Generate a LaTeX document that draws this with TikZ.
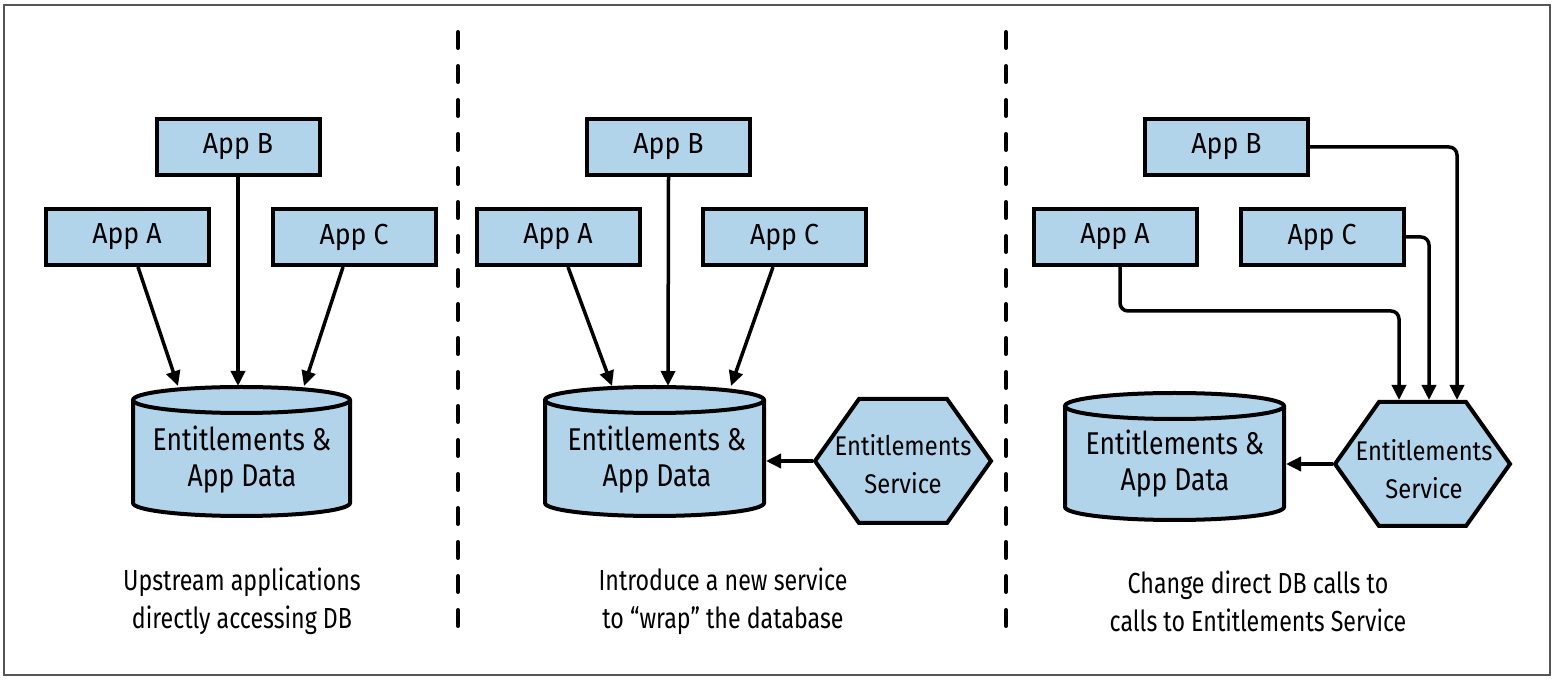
\documentclass[tikz,border=0pt]{standalone}
\usepackage{fontspec}
\setmainfont{Fira Sans}[FakeStretch=0.88]
\newfontfamily\appfont{Fira Sans}[FakeStretch=0.92]
\newfontfamily\dbfont{Fira Sans}[FakeStretch=0.84]
\newfontfamily\hexfont{Fira Sans}[FakeStretch=0.88]
\newfontfamily\capfont{Fira Sans}[FakeStretch=0.80]
\usetikzlibrary{arrows.meta,calc}
\definecolor{appblue}{HTML}{B2D4EA}
\definecolor{framegray}{HTML}{555555}
\newcommand\DBcyl[5]{% cx, rx, Ytop, Ybot, r
  \fill[appblue] ({#1-#2},#3) -- ({#1-#2},#4) arc[start angle=180, end angle=360, x radius=#2pt, y radius=#5pt] -- ({#1+#2},#3) arc[start angle=0, end angle=180, x radius=#2pt, y radius=#5pt] -- cycle;
  \draw[line width=4pt] ({#1-#2},#3) -- ({#1-#2},#4) arc[start angle=180, end angle=360, x radius=#2pt, y radius=#5pt] -- ({#1+#2},#3);
  \draw[line width=4pt] (#1,#3) ellipse[x radius=#2pt, y radius=#5pt];
}
\begin{document}
\begin{tikzpicture}[x=1pt,y=1pt,
  app/.style={draw, line width=4pt, fill=appblue, minimum width=163pt, minimum height=56pt, inner sep=0pt, font=\appfont\fontsize{29}{34}\selectfont},
  anchorbox/.style={inner sep=0pt, outer sep=0pt},
  dbtxt/.style={align=center, inner sep=0pt, font=\dbfont\fontsize{31.5}{36}\selectfont},
  hextxt/.style={align=center, inner sep=0pt, font=\hexfont\fontsize{27}{38}\selectfont},
  captxt/.style={align=center, inner sep=0pt, font=\capfont\fontsize{29}{38}\selectfont},
  conn/.style={line width=3.5pt, -{Triangle[length=15pt,width=14pt]}},
  hexshape/.style={draw, line width=4pt, fill=appblue, line join=miter},
  divider/.style={line width=4pt, dash pattern=on 16pt off 18pt, line cap=round}
]
\useasboundingbox (0,0) rectangle (1556,680);
\draw[framegray, line width=1.5pt] (4,5) rectangle (1550,675);

% dividers
\coordinate (d1t) at (458,648); \coordinate (d1b) at (458,43);
\coordinate (d2t) at (1006,648); \coordinate (d2b) at (1006,43);
\draw[divider] (d1t) -- (d1b);
\draw[divider] (d2t) -- (d2b);

% ---------- Panel 1 ----------
\node[app] (b1) at (238,533) {App B};
\node[app] (a1) at (127,443) {App A};
\node[app] (c1) at (354,443) {App C};
\DBcyl{241.5}{108.5}{280}{177}{13}
\node[anchorbox, minimum width=221pt, minimum height=131pt] (db1) at (241.5,228.5) {};
\node[dbtxt] (db1t) at (242,220) {Entitlements \&\\App Data};
\draw[conn] ([xshift=11pt]a1.south) -- ([xshift=-63.5pt]db1.north);
\draw[conn] ([xshift=0pt]b1.south) -- ([xshift=-3.5pt]db1.north);
\draw[conn] ([xshift=-11pt]c1.south) -- ([xshift=62.5pt]db1.north);
\node[captxt] (cap1) at (242,79) {Upstream applications\\directly accessing DB};

% ---------- Panel 2 ----------
\node[app] (b2) at (668.5,533) {App B};
\node[app] (a2) at (558,443) {App A};
\node[app] (c2) at (784.5,443) {App C};
\DBcyl{654.5}{109.5}{280}{177}{13}
\node[anchorbox, minimum width=223pt, minimum height=131pt] (db2) at (654.5,228.5) {};
\node[dbtxt] (db2t) at (657,220) {Entitlements \&\\App Data};
\draw[hexshape] (815,219) -- (859,281) -- (947,281) -- (991,219) -- (947,157) -- (859,157) -- cycle;
\node[anchorbox, minimum width=180pt, minimum height=128pt] (hex2) at (903,219) {};
\node[hextxt] (hex2t) at (903,216) {Entitlements\\Service};
\draw[conn] ([xshift=10pt]a2.south) -- ([xshift=-42.5pt]db2.north);
\draw[conn] (b2.south) -- ([xshift=13.5pt]db2.north);
\draw[conn] ([xshift=-11.5pt]c2.south) -- ([xshift=76.5pt]db2.north);
\draw[conn] (hex2.west) -- (hex2.west -| db2.east);
\node[captxt] (cap2) at (723,79) {Introduce a new service\\to “wrap” the database};

% ---------- Panel 3 ----------
\node[app] (b3) at (1226.5,533) {App B};
\node[app] (a3) at (1115,443) {App A};
\node[app] (c3) at (1322,443) {App C};
\DBcyl{1174.5}{109.5}{274}{173}{13}
\node[anchorbox, minimum width=223pt, minimum height=131pt] (db3) at (1174.5,223.5) {};
\node[dbtxt] (db3t) at (1175,216) {Entitlements \&\\App Data};
\draw[hexshape] (1335,216) -- (1379,278) -- (1466,278) -- (1510,216) -- (1466,154) -- (1379,154) -- cycle;
\node[anchorbox, minimum width=179pt, minimum height=128pt] (hex3) at (1422.5,216) {};
\node[hextxt] (hex3t) at (1424,211) {Entitlements\\Service};
\draw[conn, rounded corners=8pt] (b3.east) -| ([xshift=34.5pt]hex3.north);
\draw[conn, rounded corners=8pt] (c3.east) -| ([xshift=6.5pt]hex3.north);
\draw[conn, rounded corners=8pt] ([xshift=5pt]a3.south) |- ([xshift=-23.5pt,yshift=89pt]hex3.north) -- ([xshift=-23.5pt]hex3.north);
\draw[conn] (hex3.west) -- (hex3.west -| db3.east);
\node[captxt] (cap3) at (1258,79) {Change direct DB calls to\\calls to Entitlements Service};
\end{tikzpicture}
\end{document}
